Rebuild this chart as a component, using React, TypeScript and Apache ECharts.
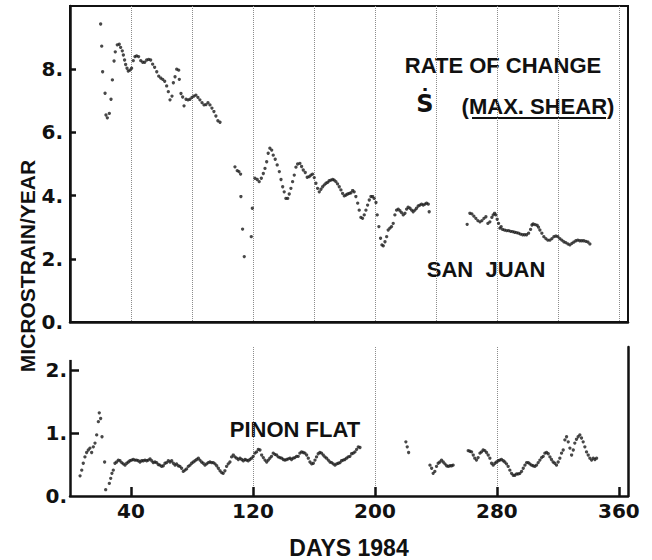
import React, { useEffect, useRef } from "react";
import * as echarts from "echarts";

// San Juan: rate of change of max. shear, [day of 1984, microstrain/year]
const sanJuan: number[][] = [
  [20.1, 9.43], [20.8, 8.73], [21.4, 7.92], [23.0, 7.24], [23.6, 6.55], [24.5, 6.46], [25.8, 6.6], [26.9, 7.05], [27.8, 7.66], [28.9, 8.26],
  [29.7, 8.55], [31.0, 8.77], [32.3, 8.79], [33.2, 8.69], [34.3, 8.58], [35.0, 8.45], [35.8, 8.29], [36.5, 8.15], [37.4, 8.03], [38.2, 7.94],
  [39.3, 7.97], [40.4, 8.03], [41.5, 8.27], [42.6, 8.4], [43.7, 8.42], [45.0, 8.4], [46.4, 8.27], [47.7, 8.22], [49.0, 8.22], [50.3, 8.29],
  [51.6, 8.31], [52.9, 8.29], [54.2, 8.16], [55.5, 8.06], [56.9, 7.92], [58.2, 7.78], [59.5, 7.72], [60.8, 7.68], [62.1, 7.62], [63.4, 7.47],
  [64.5, 7.29], [65.6, 7.03], [66.9, 7.15], [67.8, 7.57], [68.9, 7.76], [70.0, 8.0], [71.3, 7.97], [71.7, 7.68], [72.8, 7.23], [73.9, 7.12],
  [74.8, 6.84], [76.1, 7.05], [77.4, 7.03], [78.7, 7.05], [80.0, 7.11], [81.3, 7.15], [82.6, 7.18], [83.9, 7.11], [85.2, 7.03], [86.6, 6.94],
  [87.9, 6.87], [89.2, 6.88], [90.5, 6.94], [91.8, 6.87], [93.1, 6.77], [94.4, 6.66], [95.7, 6.52], [97.0, 6.37], [98.4, 6.32],
  [108.2, 4.91], [109.7, 4.79], [110.8, 4.76], [111.9, 4.68], [112.1, 3.97], [113.2, 2.94], [114.3, 2.07], [118.9, 2.7], [119.6, 3.6],
  [121.3, 4.55], [122.8, 4.51], [124.1, 4.44], [125.5, 4.55], [126.8, 4.7], [127.9, 4.86], [129.0, 5.07], [130.0, 5.34], [131.1, 5.5], [132.3, 5.44],
  [133.3, 5.28], [134.6, 5.15], [135.9, 4.97], [137.3, 4.76], [138.4, 4.51], [139.5, 4.28], [140.5, 4.12], [141.6, 3.91], [142.8, 3.91], [143.8, 4.05],
  [144.9, 4.23], [146.0, 4.44], [147.1, 4.65], [148.2, 4.9], [149.3, 5.0], [150.8, 5.02], [151.9, 4.92], [153.0, 4.81], [154.3, 4.73], [155.6, 4.58],
  [156.9, 4.6], [158.0, 4.65], [159.1, 4.68], [160.2, 4.57], [161.3, 4.39], [162.4, 4.23], [163.5, 4.12], [164.6, 4.2], [165.7, 4.28], [166.8, 4.34],
  [167.9, 4.39], [169.0, 4.42], [170.0, 4.47], [171.1, 4.49], [172.3, 4.51], [173.3, 4.49], [174.4, 4.44], [175.5, 4.37], [176.6, 4.28], [177.7, 4.18],
  [178.8, 4.07], [179.9, 3.99], [181.0, 4.02], [182.1, 4.05], [183.2, 4.07], [184.3, 4.09], [185.4, 4.16], [186.4, 4.12], [187.5, 3.97], [188.7, 3.76],
  [189.7, 3.54], [190.8, 3.31], [191.9, 3.28], [193.0, 3.39], [194.1, 3.54], [195.2, 3.7], [196.3, 3.86], [197.4, 3.97], [198.5, 3.97], [199.5, 3.91],
  [200.7, 3.78], [201.5, 3.39], [202.6, 3.02], [203.7, 2.65], [204.6, 2.44], [205.5, 2.41], [206.6, 2.54], [207.7, 2.7], [208.7, 2.91], [209.8, 2.97],
  [210.9, 3.02], [212.0, 3.12], [213.1, 3.39], [214.2, 3.54], [215.3, 3.57], [216.4, 3.52], [217.5, 3.46], [218.6, 3.39], [219.7, 3.44], [220.8, 3.57],
  [221.8, 3.63], [223.0, 3.6], [224.1, 3.54], [225.1, 3.49], [226.2, 3.54], [227.3, 3.6], [228.4, 3.67], [229.5, 3.7], [230.6, 3.73], [231.7, 3.7],
  [232.8, 3.73], [233.9, 3.76], [235.0, 3.73], [235.6, 3.49],
  [260.5, 3.09], [262.3, 3.44], [263.6, 3.42], [264.9, 3.35], [266.2, 3.28], [267.5, 3.21], [268.9, 3.17], [270.2, 3.21], [271.5, 3.28], [272.8, 3.33],
  [274.1, 3.12], [275.4, 3.17], [276.7, 3.31], [277.6, 3.39], [278.5, 3.44], [279.3, 3.39], [280.2, 3.25], [281.1, 3.12], [282.0, 2.97], [282.8, 3.02],
  [283.7, 2.93], [285.0, 2.91], [286.4, 2.89], [287.7, 2.89], [289.0, 2.87], [290.3, 2.86], [291.6, 2.84], [292.9, 2.83], [294.2, 2.81], [295.5, 2.78],
  [296.9, 2.76], [298.2, 2.76], [299.5, 2.76], [300.8, 2.81], [302.1, 2.93], [303.0, 3.07], [303.8, 3.1], [305.1, 3.08], [306.4, 3.06], [307.3, 3.0],
  [308.2, 2.91], [309.5, 2.81], [310.8, 2.7], [312.1, 2.64], [313.4, 2.59], [314.8, 2.59], [316.1, 2.64], [317.4, 2.7], [318.7, 2.72], [320.0, 2.7],
  [321.3, 2.64], [322.6, 2.59], [323.9, 2.54], [325.2, 2.51], [326.6, 2.47], [327.9, 2.44], [329.2, 2.49], [330.5, 2.53], [331.8, 2.57], [333.1, 2.59],
  [334.4, 2.57], [335.7, 2.57], [337.0, 2.57], [338.4, 2.55], [339.7, 2.53], [341.0, 2.47],
];

// Pinon Flat: [day of 1984, microstrain/year]
const pinonFlat: number[][] = [
  [6.6, 0.32], [7.7, 0.41], [8.7, 0.52], [9.8, 0.62], [10.9, 0.69], [12.0, 0.73], [13.1, 0.76], [14.2, 0.69], [15.3, 0.78], [16.4, 0.84],
  [17.5, 0.97], [18.6, 1.18], [19.2, 1.32], [20.1, 1.23], [21.0, 0.94], [22.7, 0.54], [23.4, 0.1], [25.8, 0.2], [26.7, 0.28], [27.5, 0.36],
  [28.4, 0.41], [29.5, 0.52], [30.6, 0.54], [31.7, 0.57], [32.8, 0.56], [33.9, 0.53], [35.0, 0.51], [36.1, 0.49], [37.2, 0.52], [38.3, 0.54],
  [39.3, 0.56], [40.4, 0.57], [41.5, 0.58], [42.6, 0.57], [43.7, 0.57], [44.8, 0.56], [45.9, 0.54], [47.0, 0.56], [48.1, 0.56], [49.2, 0.57],
  [50.3, 0.56], [51.4, 0.57], [52.5, 0.59], [53.6, 0.56], [54.6, 0.53], [55.7, 0.54], [56.8, 0.53], [57.9, 0.5], [59.0, 0.49], [60.1, 0.47],
  [61.2, 0.48], [62.3, 0.52], [63.4, 0.53], [64.5, 0.56], [65.6, 0.54], [66.7, 0.56], [67.8, 0.52], [68.9, 0.49], [69.9, 0.51], [71.0, 0.48],
  [72.1, 0.47], [73.2, 0.44], [74.3, 0.39], [75.4, 0.41], [76.5, 0.43], [77.6, 0.47], [78.7, 0.49], [79.8, 0.52], [80.9, 0.54], [82.0, 0.56],
  [83.1, 0.58], [84.2, 0.6], [85.2, 0.57], [86.3, 0.54], [87.4, 0.52], [88.5, 0.49], [89.6, 0.51], [90.7, 0.53], [91.8, 0.54], [92.9, 0.53],
  [94.0, 0.53], [95.1, 0.51], [96.2, 0.48], [97.3, 0.44], [98.4, 0.4], [99.5, 0.37], [100.5, 0.36], [101.6, 0.4], [102.7, 0.47], [103.8, 0.51],
  [104.9, 0.54], [106.0, 0.62], [107.1, 0.65], [108.2, 0.62], [109.3, 0.6], [110.4, 0.58], [111.5, 0.6], [112.6, 0.58], [113.7, 0.56], [114.8, 0.58],
  [115.8, 0.57], [116.9, 0.56], [118.0, 0.58], [119.1, 0.6], [120.2, 0.63], [121.3, 0.68], [122.4, 0.7], [123.5, 0.74], [124.6, 0.73], [125.7, 0.65],
  [126.8, 0.61], [127.9, 0.57], [129.0, 0.54], [130.1, 0.57], [131.1, 0.6], [132.2, 0.63], [133.3, 0.68], [134.4, 0.66], [135.5, 0.65], [136.6, 0.62],
  [137.7, 0.61], [138.8, 0.6], [139.9, 0.58], [141.0, 0.57], [142.1, 0.58], [143.2, 0.59], [144.3, 0.6], [145.3, 0.58], [146.4, 0.6], [147.5, 0.61],
  [148.6, 0.63], [149.7, 0.63], [150.8, 0.68], [151.9, 0.7], [153.0, 0.69], [154.1, 0.68], [155.2, 0.65], [156.3, 0.6], [157.4, 0.54], [158.5, 0.51],
  [159.6, 0.52], [160.7, 0.57], [161.7, 0.62], [162.8, 0.67], [163.9, 0.69], [165.0, 0.68], [166.1, 0.65], [167.2, 0.62], [168.3, 0.6], [169.4, 0.57],
  [170.5, 0.54], [171.6, 0.53], [172.7, 0.51], [173.8, 0.49], [174.9, 0.51], [176.0, 0.52], [177.1, 0.53], [178.1, 0.56], [179.2, 0.57], [180.3, 0.58],
  [181.4, 0.6], [182.5, 0.62], [183.6, 0.63], [184.7, 0.67], [185.8, 0.68], [186.9, 0.7], [188.0, 0.74], [189.1, 0.78], [190.2, 0.77],
  [220.3, 0.86], [221.2, 0.78], [222.1, 0.69],
  [236.1, 0.49], [237.2, 0.44], [238.2, 0.36], [239.3, 0.39], [240.4, 0.47], [241.5, 0.52], [242.6, 0.54], [243.7, 0.57], [244.8, 0.54], [245.9, 0.51],
  [247.0, 0.48], [248.1, 0.47], [249.2, 0.48], [250.3, 0.48], [251.3, 0.49],
  [261.2, 0.72], [262.3, 0.71], [263.4, 0.7], [264.5, 0.65], [265.5, 0.6], [266.6, 0.57], [267.7, 0.61], [268.9, 0.68], [269.9, 0.7], [271.0, 0.73],
  [272.1, 0.72], [273.2, 0.69], [274.3, 0.65], [275.4, 0.6], [276.5, 0.52], [277.6, 0.49], [278.7, 0.52], [279.8, 0.54], [280.9, 0.56], [281.9, 0.57],
  [283.0, 0.58], [284.2, 0.56], [285.2, 0.54], [286.3, 0.51], [287.4, 0.47], [288.5, 0.41], [289.6, 0.36], [290.7, 0.33], [291.8, 0.33], [292.9, 0.35],
  [294.0, 0.35], [295.1, 0.36], [296.2, 0.39], [297.3, 0.44], [298.4, 0.49], [299.5, 0.53], [300.6, 0.53], [301.6, 0.51], [302.7, 0.49], [303.8, 0.48],
  [304.9, 0.47], [306.0, 0.49], [307.1, 0.53], [308.2, 0.57], [309.3, 0.61], [310.4, 0.63], [311.5, 0.68], [312.6, 0.69], [313.7, 0.67], [314.8, 0.62],
  [315.8, 0.58], [316.9, 0.54], [318.0, 0.52], [319.1, 0.49], [320.2, 0.54], [321.3, 0.6], [322.4, 0.68], [323.5, 0.73], [324.6, 0.89], [325.7, 0.94],
  [326.8, 0.86], [327.9, 0.76], [329.0, 0.65], [330.1, 0.73], [331.1, 0.84], [332.2, 0.9], [333.3, 0.94], [334.4, 0.97], [335.5, 0.92], [336.6, 0.86],
  [337.7, 0.78], [338.8, 0.7], [339.9, 0.65], [341.0, 0.6], [342.1, 0.57], [343.2, 0.6], [344.3, 0.58], [345.4, 0.6],
];

const dayLabels = [40, 120, 200, 280, 360];
const topRateLabels = [0, 2, 4, 6, 8];
const topRateTicks = [2, 4, 6, 8];
const bottomRateLabels = [0, 1, 2];
const bottomRateTicks = [1, 2];
const bottomLeftAxisTop = 2.16;

const INK = "#111111";
const DOT = "#1a1a1a";
const GRIDLINE = "#8c8c8c";
const NUM_FONT = { color: INK, fontFamily: "DejaVu Sans", fontWeight: "bold" as const, fontSize: 20 };
const TXT = (text: string, x: number, y: number, size = 22, family = "Liberation Sans") => ({
  type: "text",
  x,
  y,
  silent: true,
  style: {
    text,
    fill: INK,
    fontFamily: family,
    fontWeight: "bold",
    fontSize: size,
    align: "center",
    verticalAlign: "middle",
  },
});

export default function App() {
  const ref = useRef<HTMLDivElement>(null);

  useEffect(() => {
    if (!ref.current) return;
    const chart = echarts.init(ref.current, undefined, { renderer: "svg" });
    const axisLine = { show: true, onZero: false, lineStyle: { color: INK, width: 2.5 } };
    const splitLine = {
      show: true,
      showMinLine: false,
      showMaxLine: false,
      lineStyle: { type: "dotted", color: GRIDLINE, width: 1 },
    };
    chart.setOption({
      animation: false,
      backgroundColor: "#ffffff",
      grid: [
        { left: 70, right: 24, top: 6, height: 316, show: true, borderColor: INK, borderWidth: 2, backgroundColor: "transparent" },
        { left: 70, right: 24, top: 347, height: 149 },
      ],
      xAxis: [
        {
          type: "value", gridIndex: 0, min: 0, max: 366, interval: 40,
          axisLine, axisTick: { show: false }, axisLabel: { show: false }, splitLine,
        },
        {
          type: "value", gridIndex: 1, min: 0, max: 366, interval: 40,
          axisLine,
          axisTick: { show: true, inside: true, length: 9, customValues: dayLabels, lineStyle: { color: INK, width: 2.5 } },
          axisLabel: { show: true, customValues: dayLabels, margin: 5, ...NUM_FONT },
          splitLine,
        },
      ],
      yAxis: [
        {
          type: "value", gridIndex: 0, min: 0, max: 10, interval: 2,
          axisLine,
          axisTick: { show: true, inside: true, length: 6, customValues: topRateTicks, lineStyle: { color: INK, width: 2.5 } },
          axisLabel: { show: true, customValues: topRateLabels, formatter: (v: number) => `${v}.`, margin: 7, ...NUM_FONT },
          splitLine: { show: false },
        },
        {
          type: "value", gridIndex: 1, min: 0, max: 2.365,
          axisLine: { show: false },
          axisTick: { show: true, inside: true, length: 9, customValues: bottomRateTicks, lineStyle: { color: INK, width: 2.5 } },
          axisLabel: { show: true, customValues: bottomRateLabels, formatter: (v: number) => `${v}.`, margin: 3, ...NUM_FONT },
          splitLine: { show: false },
        },
        {
          type: "value", gridIndex: 1, min: 0, max: 2.365, position: "right",
          axisLine, axisTick: { show: false }, axisLabel: { show: false }, splitLine: { show: false },
        },
      ],
      series: [
        {
          type: "scatter", name: "San Juan", xAxisIndex: 0, yAxisIndex: 0,
          data: sanJuan, symbolSize: 3.3, itemStyle: { color: DOT }, silent: true,
        },
        {
          type: "scatter", name: "Pinon Flat", xAxisIndex: 1, yAxisIndex: 1,
          data: pinonFlat, symbolSize: 3.3, itemStyle: { color: DOT }, silent: true,
          markLine: {
            silent: true,
            symbol: ["none", "none"],
            label: { show: false },
            lineStyle: { type: "solid", color: INK, width: 2.5 },
            data: [[{ coord: [0, 0] }, { coord: [0, bottomLeftAxisTop] }]],
          },
        },
      ],
      graphic: [
        TXT("RATE OF CHANGE", 503, 65),
        TXT("\u1E60", 425, 104, 24, "DejaVu Sans"),
        TXT("(MAX. SHEAR)", 538, 106),
        { type: "line", silent: true, shape: { x1: 472, y1: 118, x2: 606, y2: 118 }, style: { stroke: INK, lineWidth: 2 } },
        TXT("SAN  JUAN", 486, 269),
        TXT("PINON FLAT", 295, 429),
        TXT("DAYS 1984", 349, 548, 23),
        { ...TXT("MICROSTRAIN/YEAR", 27, 266, 21), rotation: Math.PI / 2 },
      ],
    });
    return () => chart.dispose();
  }, []);

  return <div ref={ref} style={{ position: "absolute", left: 0, top: 0, width: 652, height: 560 }} />;
}
